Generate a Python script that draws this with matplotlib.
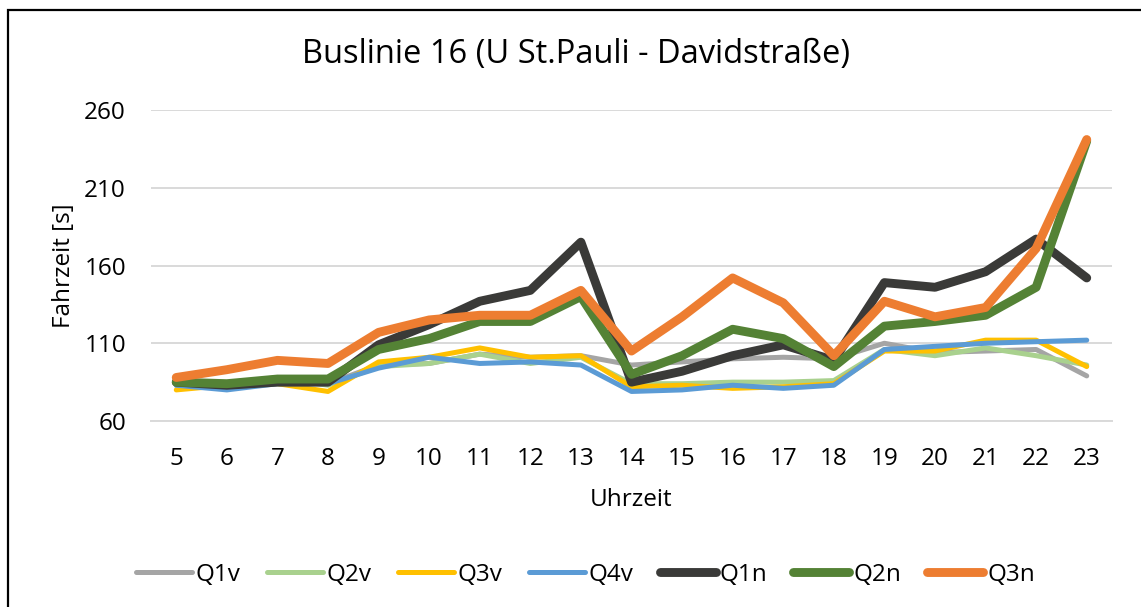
import numpy as np
import matplotlib
matplotlib.use("Agg")
import matplotlib.pyplot as plt
from matplotlib.patches import Rectangle

plt.rcParams['font.family'] = ['Open Sans', 'DejaVu Sans']

hours = [5, 6, 7, 8, 9, 10, 11, 12, 13, 14, 15, 16, 17, 18, 19, 20, 21, 22, 23]

q1v = [83, 84, 85, 84, 96, 97, 103, 101, 102, 96, 98, 100, 101, 100, 110, 104, 105, 106, 89]
q2v = [84, 84, 88, 83, 95, 97, 103, 97, 101, 84, 84, 85, 85, 86, 106, 102, 107, 102, 96]
q3v = [80, 83, 84, 79, 98, 101, 107, 101, 102, 82, 83, 81, 82, 84, 105, 105, 112, 112, 95]
q4v = [83, 80, 84, 84, 94, 101, 97, 98, 96, 79, 80, 83, 81, 83, 106, 108, 110, 111, 112]
q1n = [85, 83, 85, 85, 109, 122, 137, 144, 175, 85, 92, 102, 109, 99, 149, 146, 156, 177, 152]
q2n = [85, 84, 87, 87, 106, 113, 124, 124, 140, 90, 102, 119, 113, 95, 121, 124, 128, 146, 240]
q3n = [88, 93, 99, 97, 117, 125, 128, 128, 144, 105, 127, 152, 136, 102, 137, 127, 133, 171, 241]

names = ['Q1v', 'Q2v', 'Q3v', 'Q4v', 'Q1n', 'Q2n', 'Q3n']
series = [q1v, q2v, q3v, q4v, q1n, q2n, q3n]
colors = ['#a5a5a5', '#a9d18e', '#ffc000', '#5b9bd5', '#3a3a38', '#548235', '#ed7d31']
widths = [3.6, 3.6, 3.6, 3.6, 6.4, 6.4, 6.4]

fs = 17.5

fig = plt.figure(figsize=(11.41, 6.07), dpi=100)
ax = fig.add_axes([0.1323, 0.3064, 0.8423, 0.5124])

x = np.arange(len(hours))
for s, n, c, w in zip(series, names, colors, widths):
    ax.plot(x, s, color=c, lw=w, label=n, solid_capstyle='round', solid_joinstyle='round')

ax.set_xlim(-0.5, len(hours) - 0.5)
ax.set_ylim(60, 260)
ax.set_yticks([60, 110, 160, 210, 260])
ax.set_xticks(x)
ax.set_xticklabels([str(h) for h in hours])
ax.tick_params(length=0, labelsize=fs, colors='#000000')
ax.tick_params(axis='x', pad=19)
ax.tick_params(axis='y', pad=18)
ax.grid(axis='y', color='#d9d9d9', lw=1.4)
ax.set_axisbelow(True)
for sp in ['top', 'right', 'left']:
    ax.spines[sp].set_visible(False)
ax.spines['bottom'].set_color('#d9d9d9')
ax.spines['bottom'].set_linewidth(1.4)

fig.text(0.505, 1 - 55 / 607, 'Buslinie 16 (U St.Pauli - Davidstraße)', fontsize=23.5,
         ha='center', va='center')
ax.set_xlabel('Uhrzeit', fontsize=fs, labelpad=12)
ax.set_ylabel('Fahrzeit [s]', fontsize=fs, labelpad=6)

leg = fig.legend(loc='center', bbox_to_anchor=(0.513, 0.053), ncol=7, frameon=False,
                 fontsize=fs, handlelength=2.3, handletextpad=0.16, columnspacing=1.08)

# black chart frame, cut at right and bottom
fig.patches.append(Rectangle((0.007, -0.05), 1.05, 1.0335, transform=fig.transFigure,
                             fill=False, edgecolor='#000000', lw=1.6))

fig.savefig('out.png', dpi=100)
